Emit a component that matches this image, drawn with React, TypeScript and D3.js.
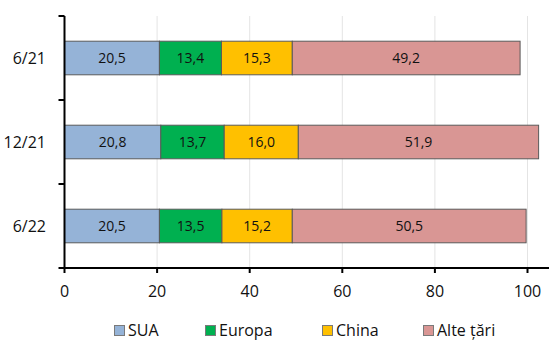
import React from "react";
import * as d3 from "d3";

const categories = ["6/21", "12/21", "6/22"];
const seriesNames = ["SUA", "Europa", "China", "Alte țări"];
const sua = [20.5, 20.8, 20.5];
const europa = [13.4, 13.7, 13.5];
const china = [15.3, 16.0, 15.2];
const alte = [49.2, 51.9, 50.5];
const xTicks = [0, 20, 40, 60, 80, 100];

const colors = ["#95B3D7", "#00B050", "#FFC000", "#D99694"];
const FONT = "'Open Sans', sans-serif";

export default function App() {
  const W = 549, H = 340;
  const left = 64.5, top = 16, bottom = 268;
  const x = d3.scaleLinear().domain([0, 100]).range([left, 527.5]);
  const y = d3.scaleBand().domain(categories).range([top, bottom]).paddingInner(0.6).paddingOuter(0.3);
  const band = d3.scaleBand().domain(categories).range([top, bottom]);
  const series = [sua, europa, china, alte];
  const rows = categories.map((c, i) => {
    const o: any = { cat: c };
    seriesNames.forEach((s, j) => (o[s] = series[j][i]));
    return o;
  });
  const stacked = d3.stack().keys(seriesNames)(rows);
  const fmt = (v: number) => v.toFixed(1).replace(".", ",");
  const legendX = [114, 205, 322, 423];

  return (
    <svg width={W} height={H} style={{ position: "absolute", left: 0, top: 0, fontFamily: FONT }}>
      {xTicks.filter((t) => t > 0).map((t) => (
        <line key={"g" + t} x1={x(t)} x2={x(t)} y1={top} y2={bottom} stroke="#e4e4e4" strokeWidth={1} />
      ))}
      {stacked.map((s, j) =>
        s.map((d, i) => {
          const x0 = x(d[0]), x1 = x(d[1]);
          const yy = y(categories[i])!;
          return (
            <g key={j + "-" + i}>
              <rect x={x0} y={yy} width={x1 - x0} height={y.bandwidth()} fill={colors[j]} stroke="#5a5a5a" strokeWidth={1} />
              <text x={(x0 + x1) / 2} y={yy + y.bandwidth() / 2} dy="0.35em" textAnchor="middle" fontSize={14} fill="#111">
                {fmt(series[j][i])}
              </text>
            </g>
          );
        })
      )}
      {/* y axis */}
      <line x1={left} x2={left} y1={top} y2={bottom} stroke="#000" strokeWidth={2} />
      {[...categories.map((c) => band(c)!), bottom].map((v, i) => (
        <line key={"yt" + i} x1={left - 6} x2={left} y1={v} y2={v} stroke="#000" strokeWidth={2} />
      ))}
      {categories.map((c) => (
        <text key={"yl" + c} x={46} y={band(c)! + band.bandwidth() / 2} dy="0.35em" textAnchor="end" fontSize={16} fill="#111">
          {c}
        </text>
      ))}
      {/* x axis */}
      <line x1={left - 1} x2={W} y1={bottom} y2={bottom} stroke="#000" strokeWidth={2} />
      {xTicks.map((t) => (
        <g key={"xt" + t}>
          <line x1={x(t)} x2={x(t)} y1={bottom} y2={bottom + 5} stroke="#000" strokeWidth={2} />
          <text x={x(t)} y={297} textAnchor="middle" fontSize={16} fill="#111">
            {t}
          </text>
        </g>
      ))}
      {/* legend */}
      {seriesNames.map((s, j) => (
        <g key={"lg" + s}>
          <rect x={legendX[j] + 0.5} y={325.5} width={10} height={10} fill={colors[j]} stroke="#7a7a7a" strokeWidth={1} />
          <text x={legendX[j] + 14} y={335.5} fontSize={16} fill="#111">
            {s}
          </text>
        </g>
      ))}
    </svg>
  );
}
